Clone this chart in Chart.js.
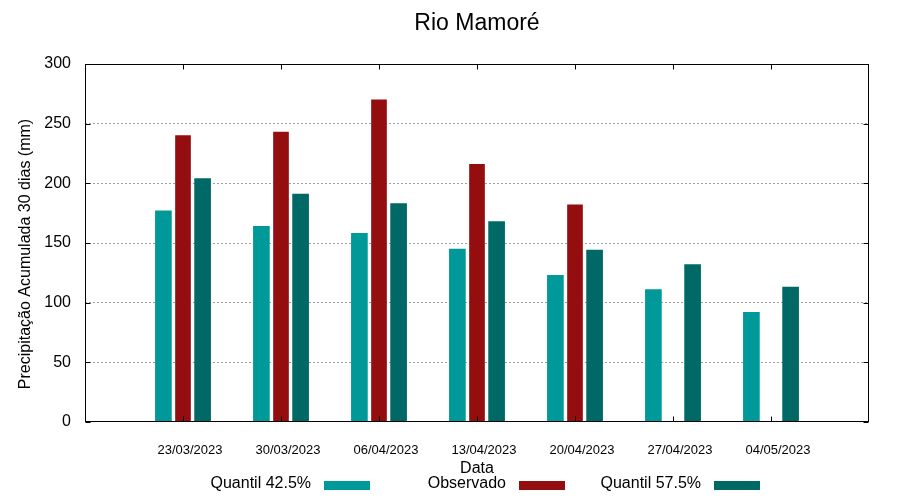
<!DOCTYPE html>
<html lang="pt-BR">
<head>
<meta charset="UTF-8">
<script src="https://cdn.jsdelivr.net/npm/chart.js"></script>
<title>Rio Mamoré</title>
<style>
  body { margin: 0; background: #fff; }
</style>
</head>
<body>
<canvas id="chuva" width="900" height="500"></canvas>
<script>
// valores (mm, acumulado 30 dias)
const datas = ['23/03/2023', '30/03/2023', '06/04/2023', '13/04/2023', '20/04/2023', '27/04/2023', '04/05/2023'];
const quantil425 = [177, 164, 158, 145, 123, 111, 92];
const observado = [240, 243, 270, 216, 182, null, null];
const quantil575 = [204, 191, 183, 168, 144, 132, 113];
const yTicks = [0, 50, 100, 150, 200, 250, 300];

const titulo = 'Rio Mamoré';
const tituloY = 'Precipitação Acumulada 30 dias (mm)';
const fonte = '"Liberation Sans", Arial, sans-serif';

Chart.defaults.font.family = fonte;
Chart.defaults.color = '#000';

// cada série fica deslocada um pouco em torno da data
function pontos(valores, desloc) {
  return valores.map((v, i) => ({ x: i + desloc, y: v }));
}

const moldura = {
  id: 'moldura',
  afterDatasetsDraw(chart) {
    const { ctx, chartArea: a, scales } = chart;
    const l = Math.round(a.left) + 0.5, r = Math.round(a.right) - 0.5;
    const t = Math.round(a.top) + 0.5, b = Math.round(a.bottom) - 0.5;
    ctx.save();
    ctx.strokeStyle = '#000';
    ctx.lineWidth = 1;
    ctx.beginPath();
    scales.x.ticks.forEach(tk => {
      const px = Math.round(scales.x.getPixelForValue(tk.value)) + 0.5;
      ctx.moveTo(px, b); ctx.lineTo(px, b - 5);
      ctx.moveTo(px, t); ctx.lineTo(px, t + 5);
    });
    scales.y.ticks.forEach(tk => {
      const py = Math.round(scales.y.getPixelForValue(tk.value)) + 0.5;
      ctx.moveTo(l, py); ctx.lineTo(l + 5, py);
      ctx.moveTo(r, py); ctx.lineTo(r - 5, py);
    });
    ctx.stroke();
    ctx.strokeRect(l, t, r - l, b - t);
    ctx.restore();
  },
  afterDraw(chart) {
    const { ctx, chartArea: a } = chart;
    ctx.save();
    ctx.fillStyle = '#000';
    ctx.textBaseline = 'middle';

    // título centrado sobre a área do gráfico
    ctx.font = '23px ' + fonte;
    ctx.textAlign = 'center';
    ctx.fillText(titulo, (a.left + a.right) / 2, 24);

    // título do eixo y
    ctx.save();
    ctx.font = '16px ' + fonte;
    ctx.translate(26, (a.top + a.bottom) / 2 + 11);
    ctx.rotate(-Math.PI / 2);
    ctx.fillText(tituloY, 0, 0);
    ctx.restore();

    // legenda estilo gnuplot: texto e depois a amostra
    ctx.font = '16px ' + fonte;
    ctx.textAlign = 'right';
    chart.data.datasets.forEach((ds, i) => {
      const xr = 311 + i * 195;
      ctx.fillStyle = '#000';
      ctx.fillText(ds.label, xr, 484);
      ctx.fillStyle = ds.backgroundColor;
      ctx.fillRect(xr + 13, 481, 46, 9);
    });
    ctx.restore();
  }
};

new Chart(document.getElementById('chuva'), {
  type: 'bar',
  data: {
    datasets: [
      { label: 'Quantil 42.5%', data: pontos(quantil425, -0.2), backgroundColor: 'rgb(0, 153, 153)', barThickness: 16, grouped: false },
      { label: 'Observado', data: pontos(observado, 0), backgroundColor: 'rgb(148, 14, 16)', barThickness: 15, grouped: false },
      { label: 'Quantil 57.5%', data: pontos(quantil575, 0.2), backgroundColor: 'rgb(0, 104, 101)', barThickness: 16, grouped: false }
    ]
  },
  options: {
    responsive: false,
    animation: false,
    layout: { padding: { top: 64, right: 31 } },
    plugins: {
      legend: { display: false },
      tooltip: { enabled: false },
      title: { display: false }
    },
    scales: {
      x: {
        type: 'linear',
        min: -1,
        max: 7,
        offset: false,
        afterBuildTicks: s => { s.ticks = datas.map((d, i) => ({ value: i })); },
        ticks: {
          callback: v => datas[v] ?? '',
          font: { size: 13 },
          padding: 21,
          labelOffset: 7,
          maxRotation: 0,
          autoSkip: false
        },
        grid: { display: false, drawTicks: false, offset: false },
        border: { display: false },
        title: { display: true, text: 'Data', font: { size: 16 }, padding: { top: 0, bottom: 22 } },
        afterFit: s => { s.height = 78; }
      },
      y: {
        min: 0,
        max: 300,
        afterBuildTicks: s => { s.ticks = yTicks.map(v => ({ value: v })); },
        ticks: { font: { size: 16 }, padding: 14 },
        grid: {
          drawTicks: false,
          color: c => (c.tick && (c.tick.value === 0 || c.tick.value === 300)) ? 'rgba(0,0,0,0)' : '#a0a0a0'
        },
        border: { display: false, dash: [2, 2] },
        title: { display: false },
        afterFit: s => { s.width = 85; }
      }
    }
  },
  plugins: [moldura]
});
</script>
</body>
</html>
